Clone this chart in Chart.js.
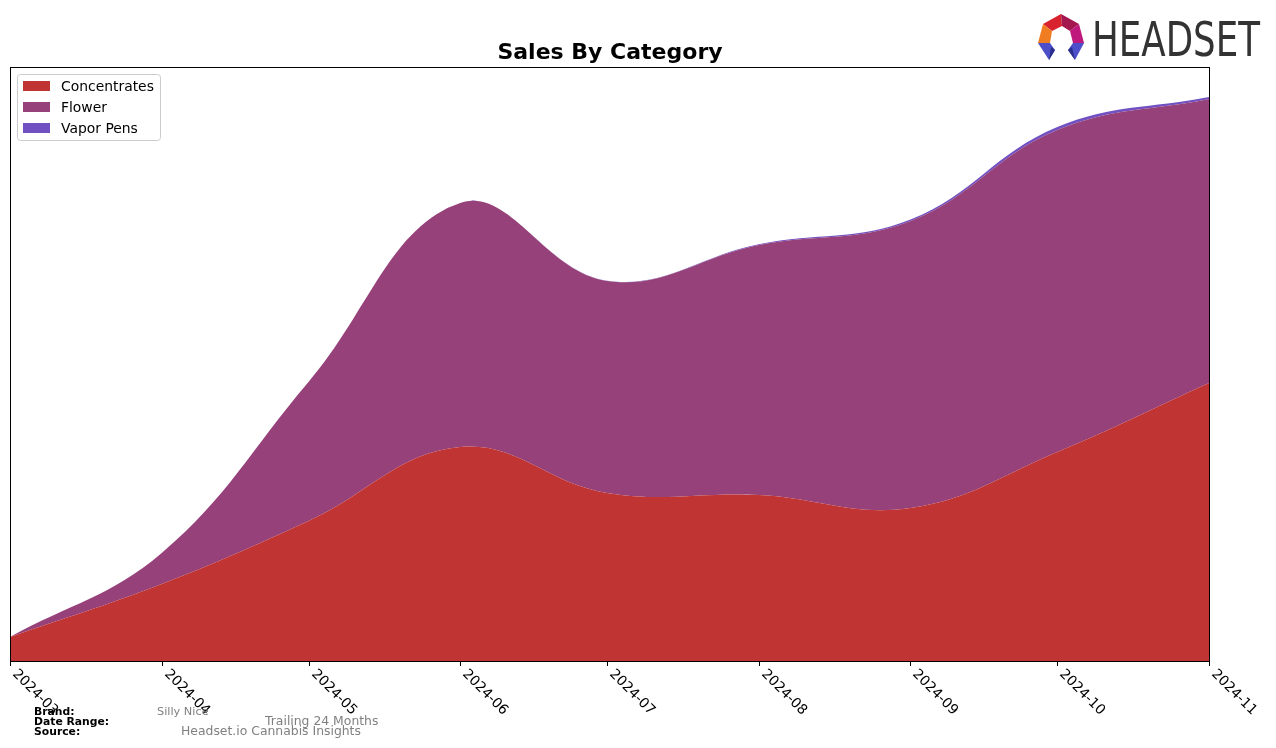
<!DOCTYPE html>
<html>
<head>
<meta charset="utf-8">
<script src="https://cdn.jsdelivr.net/npm/chart.js@4/dist/chart.umd.min.js"></script>
<style>
  html, body { margin: 0; padding: 0; background: #fff; }
  #wrap { position: relative; width: 1276px; height: 748px; overflow: hidden; }
  #chart { position: absolute; left: 0; top: 0; }
  #overlay { position: absolute; left: 0; top: 0; pointer-events: none; }
</style>
</head>
<body>
<div id="wrap">
<canvas id="chart" width="1276" height="748"></canvas>
<svg id="overlay" width="1276" height="748" xmlns="http://www.w3.org/2000/svg"></svg>
</div>
<script>
// ---- data ----
const months = ['2024-03-01','2024-04-01','2024-05-01','2024-06-01','2024-07-01','2024-08-01','2024-09-01','2024-10-01','2024-11-01'];
const tickLabels = ['2024-03','2024-04','2024-05','2024-06','2024-07','2024-08','2024-09','2024-10','2024-11'];
const concentrates = [24, 77, 140, 214, 168, 166, 153, 209, 278];
const flower       = [0, 31, 139, 244, 212, 250, 287, 322, 284];
const vaporPens    = [0, 0, 0, 0, 0.3, 0.8, 1.5, 3, 2];
const seriesNames  = ['Concentrates', 'Flower', 'Vapor Pens'];
const seriesColors = ['#c13434', '#96417a', '#7150c2'];
const brand = 'Silly Nice';
const dateRange = 'Trailing 24 Months';
const source = 'Headset.io Cannabis Insights';

const dayNum = d => Date.parse(d + 'T00:00:00Z') / 86400000;
const xs = months.map(dayNum);
const seriesValues = [concentrates, flower, vaporPens];

const datasets = seriesValues.map((vals, i) => ({
  label: seriesNames[i],
  data: vals.map((v, j) => ({ x: xs[j], y: v })),
  backgroundColor: seriesColors[i],
  borderColor: seriesColors[i],
  borderWidth: 0,
  pointRadius: 0,
  fill: i === 0 ? 'origin' : '-1',
  tension: 0.4
}));

const PLOT = { left: 10, right: 1209, top: 67, bottom: 661 };

const axisPlugin = {
  id: 'axisDeco',
  afterDraw(chart) {
    const ctx = chart.ctx;
    const a = chart.chartArea;
    const xScale = chart.scales.x;
    ctx.save();
    ctx.strokeStyle = '#000';
    ctx.lineWidth = 1;
    ctx.strokeRect(Math.round(a.left) + 0.5, Math.round(a.top) + 0.5, Math.round(a.right - a.left), Math.round(a.bottom - a.top));
    ctx.font = '13.9px "DejaVu Sans"';
    ctx.fillStyle = '#000';
    ctx.textAlign = 'left';
    ctx.textBaseline = 'top';
    months.forEach((m, i) => {
      const px = Math.round(xScale.getPixelForValue(xs[i])) + 0.5;
      ctx.beginPath();
      ctx.moveTo(px, a.bottom);
      ctx.lineTo(px, a.bottom + 5);
      ctx.stroke();
      ctx.save();
      ctx.translate(px + 9, a.bottom + 6);
      ctx.rotate(Math.PI / 4);
      ctx.fillText(tickLabels[i], 0, 0);
      ctx.restore();
    });
    ctx.restore();
  }
};

new Chart(document.getElementById('chart'), {
  type: 'line',
  data: { datasets },
  options: {
    responsive: false,
    animation: false,
    layout: { padding: { left: PLOT.left, right: 1276 - PLOT.right, top: PLOT.top, bottom: 748 - PLOT.bottom } },
    plugins: { legend: { display: false }, title: { display: false }, tooltip: { enabled: false } },
    scales: {
      x: { type: 'linear', display: false, min: xs[0], max: xs[xs.length - 1] },
      y: { stacked: true, display: false, min: 0, max: 594 }
    }
  },
  plugins: [axisPlugin]
});

// ---- overlay: title, legend, logo, footer ----
const svg = document.getElementById('overlay');
const NS = 'http://www.w3.org/2000/svg';
function el(tag, attrs, text) {
  const e = document.createElementNS(NS, tag);
  for (const k in attrs) e.setAttribute(k, attrs[k]);
  if (text !== undefined) e.textContent = text;
  svg.appendChild(e);
  return e;
}
el('text', { x: 610, y: 59, 'text-anchor': 'middle', 'font-family': 'DejaVu Sans', 'font-weight': 'bold', 'font-size': 22, fill: '#000' }, 'Sales By Category');

// legend
el('rect', { x: 17.5, y: 74.5, width: 143, height: 66, rx: 3, ry: 3, fill: '#fff', 'fill-opacity': 0.8, stroke: '#cccccc', 'stroke-width': 1 });
seriesNames.forEach((n, i) => {
  const cy = 86 + i * 21;
  el('rect', { x: 23, y: cy - 5, width: 27, height: 10, fill: seriesColors[i] });
  el('text', { x: 61, y: cy + 5, 'font-family': 'DejaVu Sans', 'font-size': 13.9, fill: '#000' }, n);
});

// logo
const logoPolys = [
  ['1043,24 1061,14 1062,26 1052,31', '#d8232f'],
  ['1061,14 1079,24 1070,31 1062,26', '#a5174f'],
  ['1079,24 1084,43 1073,43 1070,31', '#c0197e'],
  ['1043,24 1052,31 1050,43 1038,43', '#f07d22'],
  ['1038,43 1050,43 1055,50 1049,60', '#4c4fc9'],
  ['1073,43 1084,43 1075,60 1068,50', '#4c4fc9'],
  ['1049,60 1055,50 1051,47', '#2a2f8a'],
  ['1075,60 1068,50 1072,47', '#2a2f8a']
];
logoPolys.forEach(p => el('polygon', { points: p[0], fill: p[1] }));
el('text', { x: 1092, y: 56, 'font-family': 'DejaVu Sans', 'font-size': 48, fill: '#333333', textLength: 168, lengthAdjust: 'spacingAndGlyphs' }, 'HEADSET');

// footer
el('text', { x: 34, y: 715, 'font-family': 'DejaVu Sans', 'font-weight': 'bold', 'font-size': 10.8, fill: '#000' }, 'Brand:');
el('text', { x: 34, y: 725, 'font-family': 'DejaVu Sans', 'font-weight': 'bold', 'font-size': 10.8, fill: '#000' }, 'Date Range:');
el('text', { x: 34, y: 735, 'font-family': 'DejaVu Sans', 'font-weight': 'bold', 'font-size': 10.8, fill: '#000' }, 'Source:');
el('text', { x: 157, y: 715, 'font-family': 'DejaVu Sans', 'font-size': 11.3, fill: '#808080' }, brand);
el('text', { x: 265, y: 725, 'font-family': 'DejaVu Sans', 'font-size': 12.4, fill: '#808080' }, dateRange);
el('text', { x: 181, y: 735, 'font-family': 'DejaVu Sans', 'font-size': 12.4, fill: '#808080' }, source);
</script>
</body>
</html>
